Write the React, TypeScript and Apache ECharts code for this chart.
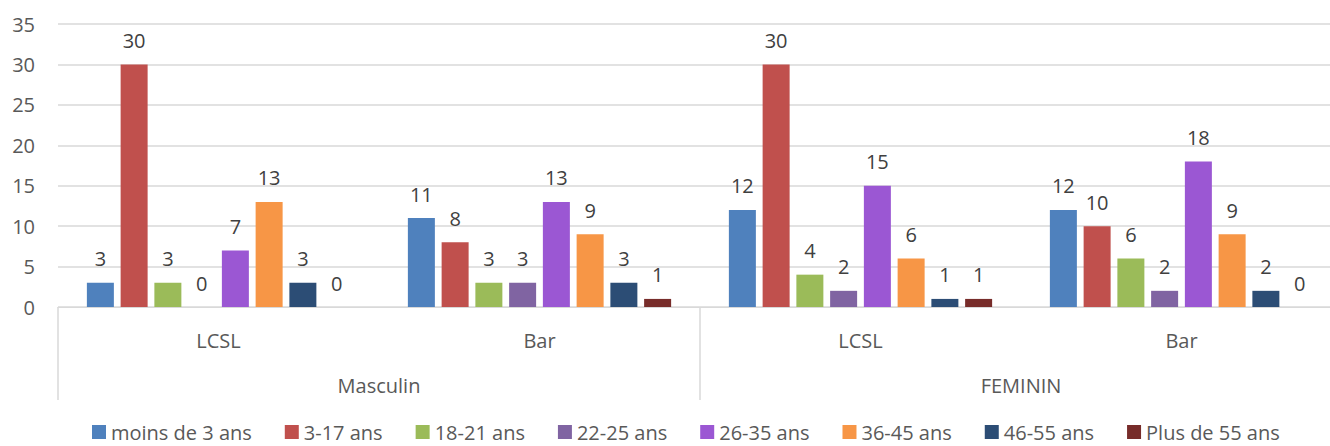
import React, { useEffect, useRef } from "react";
import * as echarts from "echarts";

const innerCategories = ["LCSL", "Bar", "LCSL", "Bar"];
const outerCategories = ["Masculin", "FEMININ"];
const seriesNames = [
  "moins de 3 ans",
  "3-17 ans",
  "18-21 ans",
  "22-25 ans",
  "26-35 ans",
  "36-45 ans",
  "46-55 ans",
  "Plus de 55 ans",
];
const moinsDe3 = [3, 11, 12, 12];
const ans3to17 = [30, 8, 30, 10];
const ans18to21 = [3, 3, 4, 6];
const ans22to25 = [0, 3, 2, 2];
const ans26to35 = [7, 13, 15, 18];
const ans36to45 = [13, 9, 6, 9];
const ans46to55 = [3, 3, 1, 2];
const plusDe55 = [0, 1, 1, 0];
const yTicks = [0, 5, 10, 15, 20, 25, 30, 35];

const seriesValues = [moinsDe3, ans3to17, ans18to21, ans22to25, ans26to35, ans36to45, ans46to55, plusDe55];
const colors = ["#4F81BD", "#C0504D", "#9BBB59", "#8064A2", "#9B57D3", "#F79646", "#2C4D75", "#772C2A"];

const FONT = "'Open Sans', sans-serif";
const FS = 20;

export default function App() {
  const ref = useRef<HTMLDivElement>(null);
  useEffect(() => {
    if (!ref.current) return;
    const chart = echarts.init(ref.current, undefined, { renderer: "svg" });
    chart.setOption({
      animation: false,
      textStyle: { fontFamily: FONT },
      grid: { left: 58, right: 0, top: 24, bottom: 139, containLabel: false },
      legend: {
        left: 92,
        top: 422,
        padding: 0,
        itemWidth: 14,
        itemHeight: 14,
        itemGap: 33,
        icon: "rect",
        textStyle: { fontSize: FS, lineHeight: 20, color: "#595959", fontFamily: FONT },
        data: seriesNames,
      },
      xAxis: [
        {
          type: "category",
          data: innerCategories,
          position: "bottom",
          offset: 0,
          axisLine: { show: true, lineStyle: { color: "#D9D9D9", width: 1 } },
          axisTick: { show: false },
          axisLabel: { margin: 23, fontSize: FS, color: "#595959", fontFamily: FONT },
        },
        {
          type: "category",
          data: outerCategories,
          position: "bottom",
          offset: 0,
          axisLine: { show: false },
          axisTick: { show: true, length: 93, interval: 0, lineStyle: { color: "#D9D9D9", width: 1.5 } },
          axisLabel: { margin: 68, fontSize: FS, color: "#595959", fontFamily: FONT },
        },
      ],
      yAxis: {
        type: "value",
        min: 0,
        max: yTicks[yTicks.length - 1],
        interval: 5,
        axisLine: { show: false },
        axisTick: { show: false },
        axisLabel: { margin: 23, fontSize: FS, color: "#595959", fontFamily: FONT },
        splitLine: { lineStyle: { color: "#D9D9D9", width: 1.5 } },
      },
      series: seriesNames.map((name, i) => ({
        name,
        type: "bar",
        xAxisIndex: 0,
        data: seriesValues[i],
        barWidth: 27,
        barGap: "25%",
        itemStyle: { color: colors[i] },
        label: {
          show: true,
          position: "top",
          distance: 14,
          fontSize: FS,
          color: "#404040",
          fontFamily: FONT,
        },
      })),
    });
    return () => chart.dispose();
  }, []);
  return (
    <div style={{ position: "fixed", left: 0, top: 0, width: 1330, height: 446, overflow: "hidden", background: "#fff" }}>
      <div ref={ref} style={{ width: 1342, height: 446 }} />
    </div>
  );
}
